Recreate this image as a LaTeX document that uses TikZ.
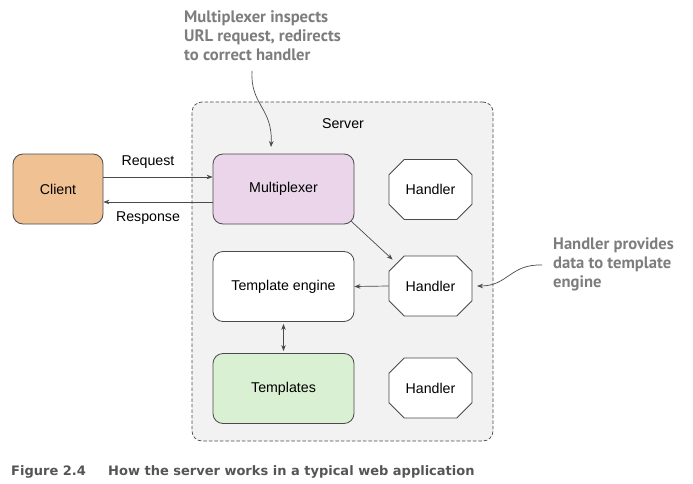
\documentclass[tikz,border=0pt]{standalone}
\usepackage{fontspec}
\setmainfont{Liberation Sans}
\newfontfamily\annfont{PT Sans}
\newfontfamily\capfont{DejaVu Sans}
\usetikzlibrary{shapes.misc,arrows.meta}
\definecolor{clientfill}{HTML}{F0C293}
\definecolor{muxfill}{HTML}{EAD5EA}
\definecolor{tplfill}{HTML}{DAF0D2}
\definecolor{serverfill}{HTML}{F2F2F2}
\definecolor{edge}{HTML}{4A4A4A}
\definecolor{anncol}{HTML}{7D7D7D}
\definecolor{capcol}{HTML}{555555}
\tikzset{
  box/.style={draw=edge, line width=0.8pt, rectangle, rounded corners=10pt, minimum width=141pt, minimum height=70pt, inner sep=0pt, font=\fontsize{14.2}{16}\selectfont},
  handler/.style={draw=edge, line width=0.8pt, fill=white, chamfered rectangle, chamfered rectangle xsep=10pt, chamfered rectangle ysep=10pt, minimum width=83pt, minimum height=60pt, inner sep=0pt, font=\fontsize{14.2}{16}\selectfont},
  lbl/.style={font=\fontsize{14.2}{16}\selectfont, inner sep=0pt},
  arr/.style={draw=edge, line width=0.7pt, -{Stealth[length=6pt,width=4.5pt]}},
  darr/.style={draw=edge, line width=0.7pt, {Stealth[length=6pt,width=4.5pt]}-{Stealth[length=6pt,width=4.5pt]}},
  ann/.style={text=anncol, font=\annfont\bfseries\fontsize{16.6}{19.4}\selectfont, align=left, anchor=north west, inner sep=0pt},
  captionstyle/.style={anchor=base west, inner sep=0pt, text=capcol, font=\capfont\bfseries\fontsize{13}{15}\selectfont},
}
\begin{document}
\begin{tikzpicture}[x=1pt,y=-1pt]
\useasboundingbox (0,0) rectangle (693,484);
% server
\node[draw=edge, dash pattern=on 3.5pt off 2pt, line width=0.7pt, fill=serverfill, rounded corners=10pt, minimum width=301pt, minimum height=339pt, inner sep=0pt] (server) at (342.5,271.5) {};
\node[lbl] (serverlbl) at (343,124) {Server};
% boxes
\node[box, fill=clientfill, minimum width=90pt] (client) at (58,189) {Client};
\node[box, fill=muxfill] (mux) at (283.5,189) {Multiplexer};
\node[box, fill=white] (te) at (283.5,286.5) {Template engine};
\node[box, fill=tplfill] (tpl) at (283.5,388.5) {Templates};
\node[handler] (h1) at (430.5,189.5) {Handler};
\node[handler] (h2) at (430.5,286) {Handler};
\node[handler] (h3) at (430.5,388) {Handler};
% connectors
\draw[arr] ([yshift=12pt]client.east) -- ([yshift=12pt]mux.west);
\draw[arr] ([yshift=-13pt]mux.west) -- ([yshift=-13pt]client.east);
\node[lbl] (reqlbl) at (148,162) {Request};
\node[lbl] (reslbl) at (148,218) {Response};
\coordinate (muxse) at (mux.south east);
\coordinate (h2nw) at (h2.west |- h2.north);
\draw[arr] ([xshift=-3pt,yshift=3pt]muxse) -- ([xshift=4pt,yshift=-4pt]h2nw);
\draw[arr] (h2.west) -- (te.east);
\draw[darr, shorten <=2pt, shorten >=2pt] (te.south) -- (tpl.north);
% annotations
\node[ann] (ann1) at (184,10) {Multiplexer inspects\\URL request, redirects\\to correct handler};
\coordinate (a1start) at (252,71);
\coordinate (a1end) at (271,147);
\draw[arr] (a1start) .. controls (250,105) and (273,108) .. (a1end);
\node[ann] (ann2) at (553,237) {Handler provides\\data to template\\engine};
\coordinate (a2start) at (542,265);
\coordinate (a2end) at (477,286);
\draw[arr] (a2start) .. controls (510,264) and (508,286) .. (a2end);
% caption
\node[captionstyle] (capnum) at (11,475) {Figure 2.4};
\node[captionstyle] (captext) at (108,475) {How the server works in a typical web application};
\end{tikzpicture}
\end{document}
